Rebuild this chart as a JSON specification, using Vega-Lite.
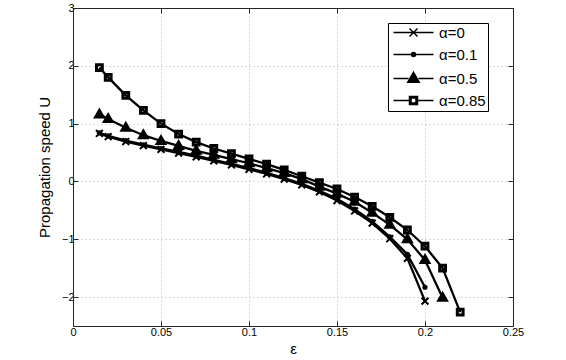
{
  "$schema": "https://vega.github.io/schema/vega-lite/v6.json",
  "width": 440,
  "height": 318,
  "autosize": "none",
  "padding": {"left": 73, "top": 8, "right": 53, "bottom": 34},
  "background": "white",
  "config": {
    "font": "Liberation Sans",
    "view": {"stroke": "#262626", "strokeWidth": 1},
    "axis": {
      "labelFont": "Liberation Sans",
      "labelFontSize": 11,
      "labelColor": "#000000",
      "titleFont": "Liberation Sans",
      "titleFontWeight": "normal",
      "titleFontSize": 15,
      "titleColor": "#000000",
      "domainColor": "#262626",
      "tickColor": "#262626",
      "gridColor": "#b4b4b4",
      "gridDash": [1, 3],
      "gridWidth": 1,
      "tickSize": -5
    },
    "legend": {
      "labelFont": "Liberation Sans",
      "labelFontSize": 15,
      "labelColor": "#000000",
      "symbolBaseFillColor": "#000000",
      "symbolBaseStrokeColor": "#000000"
    }
  },
  "data": {
    "values": [
      {"alpha": "α=0", "eps": 0.015, "U": 0.83},
      {"alpha": "α=0", "eps": 0.02, "U": 0.775},
      {"alpha": "α=0", "eps": 0.03, "U": 0.69},
      {"alpha": "α=0", "eps": 0.04, "U": 0.62},
      {"alpha": "α=0", "eps": 0.05, "U": 0.555},
      {"alpha": "α=0", "eps": 0.06, "U": 0.49},
      {"alpha": "α=0", "eps": 0.07, "U": 0.425},
      {"alpha": "α=0", "eps": 0.08, "U": 0.355},
      {"alpha": "α=0", "eps": 0.09, "U": 0.285},
      {"alpha": "α=0", "eps": 0.10, "U": 0.21},
      {"alpha": "α=0", "eps": 0.11, "U": 0.13},
      {"alpha": "α=0", "eps": 0.12, "U": 0.04},
      {"alpha": "α=0", "eps": 0.13, "U": -0.06},
      {"alpha": "α=0", "eps": 0.14, "U": -0.18},
      {"alpha": "α=0", "eps": 0.15, "U": -0.33},
      {"alpha": "α=0", "eps": 0.16, "U": -0.51},
      {"alpha": "α=0", "eps": 0.17, "U": -0.72},
      {"alpha": "α=0", "eps": 0.18, "U": -0.99},
      {"alpha": "α=0", "eps": 0.19, "U": -1.33},
      {"alpha": "α=0", "eps": 0.20, "U": -2.07},
      {"alpha": "α=0.1", "eps": 0.015, "U": 0.84},
      {"alpha": "α=0.1", "eps": 0.02, "U": 0.79},
      {"alpha": "α=0.1", "eps": 0.03, "U": 0.705},
      {"alpha": "α=0.1", "eps": 0.04, "U": 0.635},
      {"alpha": "α=0.1", "eps": 0.05, "U": 0.57},
      {"alpha": "α=0.1", "eps": 0.06, "U": 0.51},
      {"alpha": "α=0.1", "eps": 0.07, "U": 0.445},
      {"alpha": "α=0.1", "eps": 0.08, "U": 0.375},
      {"alpha": "α=0.1", "eps": 0.09, "U": 0.305},
      {"alpha": "α=0.1", "eps": 0.10, "U": 0.23},
      {"alpha": "α=0.1", "eps": 0.11, "U": 0.15},
      {"alpha": "α=0.1", "eps": 0.12, "U": 0.06},
      {"alpha": "α=0.1", "eps": 0.13, "U": -0.04},
      {"alpha": "α=0.1", "eps": 0.14, "U": -0.16},
      {"alpha": "α=0.1", "eps": 0.15, "U": -0.30},
      {"alpha": "α=0.1", "eps": 0.16, "U": -0.48},
      {"alpha": "α=0.1", "eps": 0.17, "U": -0.69},
      {"alpha": "α=0.1", "eps": 0.18, "U": -0.96},
      {"alpha": "α=0.1", "eps": 0.19, "U": -1.26},
      {"alpha": "α=0.1", "eps": 0.20, "U": -1.83},
      {"alpha": "α=0.5", "eps": 0.015, "U": 1.16},
      {"alpha": "α=0.5", "eps": 0.02, "U": 1.08},
      {"alpha": "α=0.5", "eps": 0.03, "U": 0.93},
      {"alpha": "α=0.5", "eps": 0.04, "U": 0.80},
      {"alpha": "α=0.5", "eps": 0.05, "U": 0.70},
      {"alpha": "α=0.5", "eps": 0.06, "U": 0.615},
      {"alpha": "α=0.5", "eps": 0.07, "U": 0.53},
      {"alpha": "α=0.5", "eps": 0.08, "U": 0.46},
      {"alpha": "α=0.5", "eps": 0.09, "U": 0.385},
      {"alpha": "α=0.5", "eps": 0.10, "U": 0.315},
      {"alpha": "α=0.5", "eps": 0.11, "U": 0.23},
      {"alpha": "α=0.5", "eps": 0.12, "U": 0.145},
      {"alpha": "α=0.5", "eps": 0.13, "U": 0.04},
      {"alpha": "α=0.5", "eps": 0.14, "U": -0.09},
      {"alpha": "α=0.5", "eps": 0.15, "U": -0.21},
      {"alpha": "α=0.5", "eps": 0.16, "U": -0.35},
      {"alpha": "α=0.5", "eps": 0.17, "U": -0.54},
      {"alpha": "α=0.5", "eps": 0.18, "U": -0.75},
      {"alpha": "α=0.5", "eps": 0.19, "U": -1.0},
      {"alpha": "α=0.5", "eps": 0.20, "U": -1.36},
      {"alpha": "α=0.5", "eps": 0.21, "U": -2.01},
      {"alpha": "α=0.85", "eps": 0.015, "U": 1.97},
      {"alpha": "α=0.85", "eps": 0.02, "U": 1.80},
      {"alpha": "α=0.85", "eps": 0.03, "U": 1.49},
      {"alpha": "α=0.85", "eps": 0.04, "U": 1.23},
      {"alpha": "α=0.85", "eps": 0.05, "U": 1.0},
      {"alpha": "α=0.85", "eps": 0.06, "U": 0.82},
      {"alpha": "α=0.85", "eps": 0.07, "U": 0.68},
      {"alpha": "α=0.85", "eps": 0.08, "U": 0.57},
      {"alpha": "α=0.85", "eps": 0.09, "U": 0.48},
      {"alpha": "α=0.85", "eps": 0.10, "U": 0.39},
      {"alpha": "α=0.85", "eps": 0.11, "U": 0.30},
      {"alpha": "α=0.85", "eps": 0.12, "U": 0.20},
      {"alpha": "α=0.85", "eps": 0.13, "U": 0.09},
      {"alpha": "α=0.85", "eps": 0.14, "U": -0.02},
      {"alpha": "α=0.85", "eps": 0.15, "U": -0.13},
      {"alpha": "α=0.85", "eps": 0.16, "U": -0.27},
      {"alpha": "α=0.85", "eps": 0.17, "U": -0.43},
      {"alpha": "α=0.85", "eps": 0.18, "U": -0.62},
      {"alpha": "α=0.85", "eps": 0.19, "U": -0.84},
      {"alpha": "α=0.85", "eps": 0.20, "U": -1.12},
      {"alpha": "α=0.85", "eps": 0.21, "U": -1.5},
      {"alpha": "α=0.85", "eps": 0.22, "U": -2.26}
    ]
  },
  "layer": [
    {
      "mark": {"type": "line", "color": "#000000", "strokeWidth": 2.3},
      "encoding": {
        "x": {
          "field": "eps", "type": "quantitative",
          "scale": {"domain": [0, 0.25], "nice": false, "zero": false},
          "axis": {"orient": "bottom", "values": [0, 0.05, 0.1, 0.15, 0.2, 0.25], "format": ".2~f", "title": "ε", "labelPadding": 5, "titlePadding": 4, "labelFlush": false}
        },
        "y": {
          "field": "U", "type": "quantitative",
          "scale": {"domain": [-2.5, 3], "nice": false, "zero": false},
          "axis": {"orient": "left", "values": [-2, -1, 0, 1, 2, 3], "title": "Propagation speed U", "labelPadding": 4, "titlePadding": 9, "labelFlush": false}
        },
        "detail": {"field": "alpha", "type": "nominal"}
      }
    },
    {
      "mark": {"type": "point", "filled": true, "color": "#000000", "stroke": "#000000", "strokeWidth": 2, "opacity": 1, "size": 64},
      "encoding": {
        "x": {
          "field": "eps", "type": "quantitative",
          "axis": {"orient": "top", "values": [0, 0.05, 0.1, 0.15, 0.2, 0.25], "labels": false, "grid": false, "title": null}
        },
        "y": {
          "field": "U", "type": "quantitative",
          "axis": {"orient": "right", "values": [-2, -1, 0, 1, 2, 3], "labels": false, "grid": false, "title": null}
        },
        "shape": {
          "field": "alpha", "type": "nominal",
          "scale": {
            "domain": ["α=0", "α=0.1", "α=0.5", "α=0.85"],
            "range": [
              "M-0.85,-0.85L0.85,0.85M-0.85,0.85L0.85,-0.85",
              "M-0.4,0A0.4,0.4,0,1,0,0.4,0A0.4,0.4,0,1,0,-0.4,0Z",
              "M0,-1.25L1.15,0.75L-1.15,0.75Z",
              "M-0.85,-0.85L0.85,-0.85L0.85,0.85L-0.85,0.85ZM-0.58,-0.58L-0.58,0.58L0.58,0.58L0.58,-0.58Z"
            ]
          },
          "legend": null
        }
      }
    },
    {
      "mark": {"type": "point", "filled": true, "color": "#000000", "stroke": "#000000", "strokeWidth": 2, "opacity": 0, "size": 64},
      "encoding": {
        "x": {"field": "eps", "type": "quantitative", "axis": null},
        "y": {"field": "U", "type": "quantitative", "axis": null},
        "shape": {
          "field": "alpha", "type": "nominal",
          "scale": {
            "domain": ["α=0", "α=0.1", "α=0.5", "α=0.85"],
            "range": [
              "M-4,0L4,0M-0.8,-0.8L0.8,0.8M-0.8,0.8L0.8,-0.8",
              "M-4,0L4,0M-0.4,0A0.4,0.4,0,1,0,0.4,0A0.4,0.4,0,1,0,-0.4,0Z",
              "M-4,0L-1,0M1,0L4,0M0,-1.25L1.15,0.75L-1.15,0.75Z",
              "M-4,0L-0.8,0M0.8,0L4,0M-0.8,-0.8L0.8,-0.8L0.8,0.8L-0.8,0.8ZM-0.5,-0.5L-0.5,0.5L0.5,0.5L0.5,-0.5Z"
            ]
          },
          "legend": {
            "title": null,
            "orient": "none",
            "legendX": 315,
            "legendY": 15,
            "strokeColor": "#000000",
            "fillColor": "#ffffff",
            "padding": 2,
            "symbolOffset": 16,
            "labelOffset": 18,
            "rowPadding": 6,
            "symbolOpacity": 1,
            "symbolFillColor": "#000000",
            "encode": {
              "symbols": {
                "update": {
                  "stroke": {"value": "#000000"},
                  "strokeWidth": {"value": 2},
                  "opacity": {"value": 1},
                  "fillOpacity": {"value": 1},
                  "strokeOpacity": {"value": 1}
                }
              }
            }
          }
        }
      }
    }
  ],
  "resolve": {"axis": {"x": "independent", "y": "independent"}, "scale": {"shape": "independent"}}
}
